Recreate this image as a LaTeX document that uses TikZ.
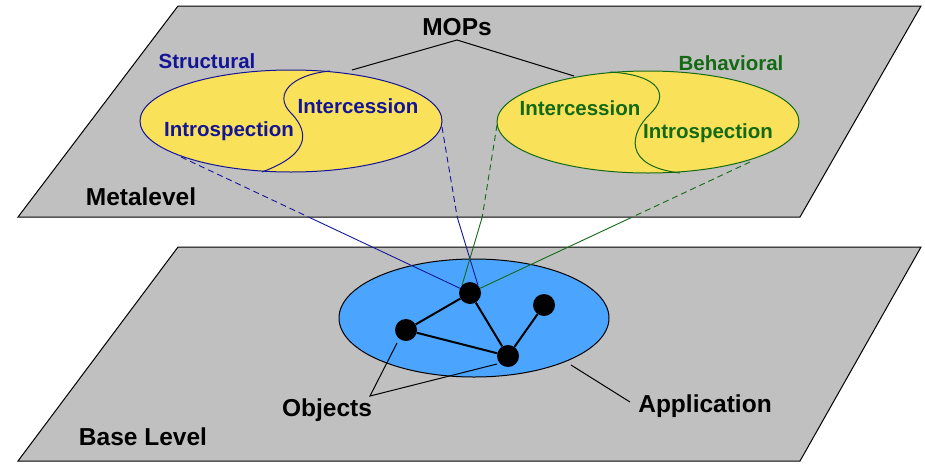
\documentclass[tikz,border=0pt]{standalone}
\usepackage{fontspec}
\setmainfont{Liberation Sans}
\usetikzlibrary{calc,shapes.geometric}
\definecolor{planegray}{RGB}{192,192,192}
\definecolor{myyellow}{RGB}{250,225,90}
\definecolor{appblue}{RGB}{75,165,255}
\definecolor{mblue}{RGB}{20,20,150}
\definecolor{mgreen}{RGB}{20,105,20}
\tikzset{
  plane/.style={fill=planegray,draw=black,line width=1pt},
  metaell/.style={ellipse,fill=myyellow,line width=1pt,minimum width=302pt,minimum height=102pt,inner sep=0pt},
  appell/.style={ellipse,fill=appblue,draw=black,line width=1pt,minimum width=270pt,minimum height=118pt,inner sep=0pt},
  obj/.style={circle,fill=black,minimum size=22pt,inner sep=0pt},
  lbl/.style={font=\bfseries\fontsize{20.5}{24}\selectfont,inner sep=0pt},
  biglbl/.style={font=\bfseries\fontsize{24.5}{28}\selectfont,inner sep=0pt},
  link/.style={line width=2pt},
  pointer/.style={line width=1pt},
  conn/.style={line width=0.9pt},
}
\begin{document}
\begin{tikzpicture}[x=1pt,y=-1pt]
\useasboundingbox[fill=white] (0,0) rectangle (925,474);
% planes
\draw[plane] (178,6) -- (921,6) -- (800,217) -- (18,217) -- cycle;
\draw[plane] (178,247) -- (921,247) -- (800,461) -- (18,461) -- cycle;
% metalevel ellipses
\node[metaell,draw=mblue] (sl) at (291,121) {};
\draw[mblue,line width=1pt] (330,71) .. controls (290,75) and (274,95) .. (290,112) .. controls (306,128) and (316,152) .. (262,172);
\node[metaell,draw=mgreen] (bh) at (648,122) {};
\draw[mgreen,line width=1pt] (610,72) .. controls (660,75) and (670,95) .. (650,114) .. controls (630,133) and (622,166) .. (680,173);
% labels metalevel
\node[biglbl] (mops) at (457,27) {MOPs};
\node[lbl,text=mblue] (structural) at (207,61) {Structural};
\node[lbl,text=mblue] (sinter) at (358,106) {Intercession};
\node[lbl,text=mblue] (sintro) at (229,131) {Introspection};
\node[lbl,text=mgreen] (behavioral) at (731,63) {Behavioral};
\node[lbl,text=mgreen] (binter) at (580,108) {Intercession};
\node[lbl,text=mgreen] (bintro) at (708,133) {Introspection};
\node[biglbl] (meta) at (141,197) {Metalevel};
\node[biglbl] (base) at (143,437) {Base Level};
\node[biglbl] (objects) at (327,410) {Objects};
\node[biglbl] (appl) at (705,406) {Application};
% MOPs lines
\coordinate (mapex) at (457,40);
\coordinate (m1) at (352,70);
\coordinate (m2) at (574,76);
\draw[pointer] (m1) -- (mapex) -- (m2);
% application ellipse
\node[appell] (app) at (474,318) {};
% objects
\node[obj] (o1) at (470,293) {};
\node[obj] (o2) at (406,330) {};
\node[obj] (o3) at (508,356) {};
\node[obj] (o4) at (544,305) {};
% links between objects
\draw[link] (o1) -- (o2);
\draw[link] (o2) -- (o3);
\draw[link] (o1) -- (o3);
\draw[link] (o3) -- (o4);
% connectors metalevel -> base
\coordinate (b1s) at (181,157);
\coordinate (b2s) at (442,127);
\coordinate (g1s) at (497,125);
\coordinate (g2s) at (750,162);
\coordinate (b1m) at ($(b1s)!0.441!(o1)$);
\coordinate (b2m) at ($(b2s)!0.542!(o1)$);
\coordinate (g1m) at ($(g1s)!0.548!(o1)$);
\coordinate (g2m) at ($(g2s)!0.42!(o1)$);
\draw[conn,mblue,dashed,dash pattern=on 6pt off 4pt] (b1s) -- (b1m);
\draw[conn,mblue] (b1m) -- (o1);
\draw[conn,mblue,dashed,dash pattern=on 6pt off 4pt] (b2s) -- (b2m);
\draw[conn,mblue] (b2m) -- (o1.north east);
\draw[conn,mgreen,dashed,dash pattern=on 6pt off 4pt] (g1s) -- (g1m);
\draw[conn,mgreen] (g1m) -- (o1.north west);
\draw[conn,mgreen,dashed,dash pattern=on 6pt off 4pt] (g2s) -- (g2m);
\draw[conn,mgreen] (g2m) -- (o1);
% objects pointers
\coordinate (oapex) at (370,396);
\coordinate (op1) at (397,343);
\coordinate (op2) at (497,364);
\draw[pointer] (op1) -- (oapex) -- (op2);
% application pointer
\coordinate (ap1) at (571,365);
\coordinate (ap2) at (630,402);
\draw[pointer] (ap1) -- (ap2);
\end{tikzpicture}
\end{document}
